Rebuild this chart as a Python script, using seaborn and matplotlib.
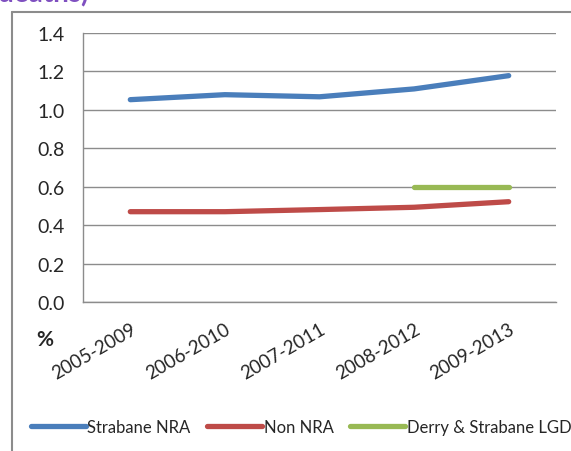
import matplotlib
matplotlib.use("Agg")
import matplotlib.pyplot as plt
import seaborn as sns
import numpy as np
import pandas as pd
from matplotlib.lines import Line2D
from matplotlib.ticker import FixedLocator

periods = ["2005-2009", "2006-2010", "2007-2011", "2008-2012", "2009-2013"]
strabane_nra = [1.053, 1.079, 1.068, 1.109, 1.178]
non_nra = [0.470, 0.470, 0.481, 0.493, 0.522]
derry_strabane_lgd = [np.nan, np.nan, np.nan, 0.60, 0.60]
y_ticks = [0.0, 0.2, 0.4, 0.6, 0.8, 1.0, 1.2, 1.4]
series_names = ["Strabane NRA", "Non NRA", "Derry & Strabane LGD"]
colors = ["#4A7EBB", "#BE4B48", "#98B954"]

sns.set_style("white")
plt.rcParams['font.family'] = ['Lato', 'DejaVu Sans']

fig = plt.figure(figsize=(5.71, 4.52), dpi=100)
ax = fig.add_axes([83/571, 1-303/452, (556-83)/571, (303-34)/452])

x = np.arange(len(periods))
for vals, name, col in zip([strabane_nra, non_nra, derry_strabane_lgd], series_names, colors):
    df = pd.DataFrame({"x": x, "y": vals}).dropna()
    sns.lineplot(data=df, x="x", y="y", ax=ax, color=col, linewidth=3.8,
                 label=name, solid_capstyle="round", legend=False)

ax.set_xlim(-0.5, len(periods) - 0.5)
ax.set_ylim(0, 1.4)
ax.yaxis.set_major_locator(FixedLocator(y_ticks))
ax.set_yticklabels([f"{v:.1f}" for v in y_ticks], fontsize=14)
ax.grid(axis="y", color="#8C8C8C", linewidth=1.0)
ax.set_axisbelow(True)

ax.xaxis.set_major_locator(FixedLocator(np.arange(-0.5, len(periods), 1.0)))
ax.set_xticklabels([])
ax.xaxis.set_minor_locator(FixedLocator(x))
ax.set_xticklabels(periods, minor=True, rotation=30, ha="right",
                   rotation_mode="anchor", fontsize=13.5)
ax.tick_params(axis="x", which="minor", length=0, pad=13)
ax.tick_params(axis="x", which="major", length=5, color="#8C8C8C", width=1.0, direction="out")
ax.tick_params(axis="y", length=5, color="#8C8C8C", width=1.0, direction="out", pad=8)
for s in ["top", "right"]:
    ax.spines[s].set_visible(False)
for s in ["left", "bottom"]:
    ax.spines[s].set_color("#8C8C8C")
    ax.spines[s].set_linewidth(1.0)
ax.set_xlabel("")
ax.set_ylabel("")

fig.text(36/571, 1-346/452, "%", fontsize=15, fontweight="bold")

# outer frame (left and top edges visible, rest cropped)
fx, fy = 11.5/571, 1-13/452
fig.add_artist(Line2D([fx, fx], [0, fy], transform=fig.transFigure, color="#8C8C8C", linewidth=1.5))
fig.add_artist(Line2D([fx, 1.0], [fy, fy], transform=fig.transFigure, color="#8C8C8C", linewidth=1.5))

# cropped title
fig.text(-2/571, 1-2/452, "deaths)", fontsize=20, fontweight="bold", color="#7F50C0",
         va="baseline", ha="left")

handles, labels = ax.get_legend_handles_labels()
fig.legend(handles, labels, loc="center left", bbox_to_anchor=(24/571, 1-428/452),
           ncol=3, frameon=False, fontsize=12, handlelength=3.3, handletextpad=0.1,
           columnspacing=1.0, borderaxespad=0)

fig.savefig("out.png", dpi=100)
